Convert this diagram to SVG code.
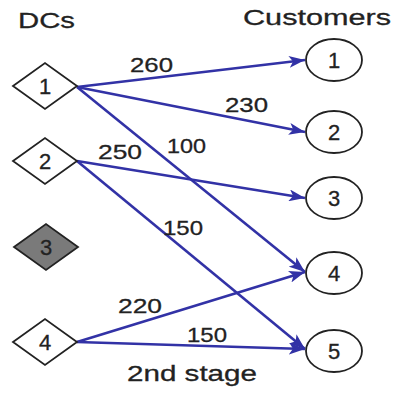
<svg xmlns="http://www.w3.org/2000/svg" width="393" height="394" viewBox="0 0 393 394">
  <style>
    .txt { font-family: "Liberation Sans", Arial, sans-serif; fill: #222; stroke: #222; stroke-width: 0.3; }
    .head { font-size: 22px; }
    .lbl { font-size: 21px; }
    .num { font-size: 22px; text-anchor: middle; }
    .dc { fill: #fff; stroke: #222; stroke-width: 1.8; }
    .dc.off { fill: #7a7a7a; }
    .cust { fill: #fff; stroke: #222; stroke-width: 1.8; }
    .edge { fill: none; stroke: #3232a6; stroke-width: 2.6; marker-end: url(#arrow); }
  </style>
  <defs>
    <marker id="arrow" markerUnits="userSpaceOnUse" markerWidth="17" markerHeight="12" refX="16" refY="6" orient="auto">
      <path d="M0,0 L16,6 L0,12 L4,6 Z" fill="#3232a6"/>
    </marker>
  </defs>

  <rect width="393" height="394" fill="#fff"/>

  <!-- column headings -->
  <text class="txt head" x="18" y="28" textLength="57" lengthAdjust="spacingAndGlyphs">DCs</text>
  <text class="txt head" x="243" y="25" textLength="148" lengthAdjust="spacingAndGlyphs">Customers</text>

  <!-- shipments from DCs to customers -->
  <g id="connectors">
    <path class="edge" d="M77,87 L305,60"/>
    <path class="edge" d="M77,87 L305,132"/>
    <path class="edge" d="M77,87 L305,272"/>
    <path class="edge" d="M77,161 L305,198"/>
    <path class="edge" d="M77,161 L305,349"/>
    <path class="edge" d="M77,342 L305,272"/>
    <path class="edge" d="M77,342 L305,349"/>
    <text class="txt lbl" x="130" y="72" textLength="43" lengthAdjust="spacingAndGlyphs">260</text>
    <text class="txt lbl" x="225" y="112" textLength="43" lengthAdjust="spacingAndGlyphs">230</text>
    <text class="txt lbl" x="167" y="153" textLength="39" lengthAdjust="spacingAndGlyphs">100</text>
    <text class="txt lbl" x="98" y="159" textLength="44" lengthAdjust="spacingAndGlyphs">250</text>
    <text class="txt lbl" x="163" y="235" textLength="40" lengthAdjust="spacingAndGlyphs">150</text>
    <text class="txt lbl" x="118" y="313" textLength="44" lengthAdjust="spacingAndGlyphs">220</text>
    <text class="txt lbl" x="187" y="342" textLength="40" lengthAdjust="spacingAndGlyphs">150</text>
  </g>

  <!-- distribution centres -->
  <g id="dc1">
    <polygon class="dc" points="13,86 45,63 77,86 45,109"/>
    <text class="txt num" x="45" y="94">1</text>
  </g>
  <g id="dc2">
    <polygon class="dc" points="13,161 45,138 77,161 45,184"/>
    <text class="txt num" x="45" y="169">2</text>
  </g>
  <g id="dc3">
    <polygon class="dc off" points="14,247 46,224 78,247 46,270"/>
    <text class="txt num" x="46" y="255">3</text>
  </g>
  <g id="dc4">
    <polygon class="dc" points="13,342 45,319 77,342 45,365"/>
    <text class="txt num" x="45" y="350">4</text>
  </g>

  <!-- customers -->
  <g id="c1">
    <ellipse class="cust" cx="334" cy="60" rx="28" ry="21"/>
    <text class="txt num" x="334" y="68">1</text>
  </g>
  <g id="c2">
    <ellipse class="cust" cx="334" cy="132" rx="28" ry="21"/>
    <text class="txt num" x="334" y="140">2</text>
  </g>
  <g id="c3">
    <ellipse class="cust" cx="334" cy="198" rx="28" ry="21"/>
    <text class="txt num" x="334" y="206">3</text>
  </g>
  <g id="c4">
    <ellipse class="cust" cx="334" cy="273" rx="28" ry="21"/>
    <text class="txt num" x="334" y="281">4</text>
  </g>
  <g id="c5">
    <ellipse class="cust" cx="334" cy="351" rx="28" ry="21"/>
    <text class="txt num" x="334" y="359">5</text>
  </g>

  <text class="txt head" x="127" y="381" textLength="130" lengthAdjust="spacingAndGlyphs">2nd stage</text>
</svg>
